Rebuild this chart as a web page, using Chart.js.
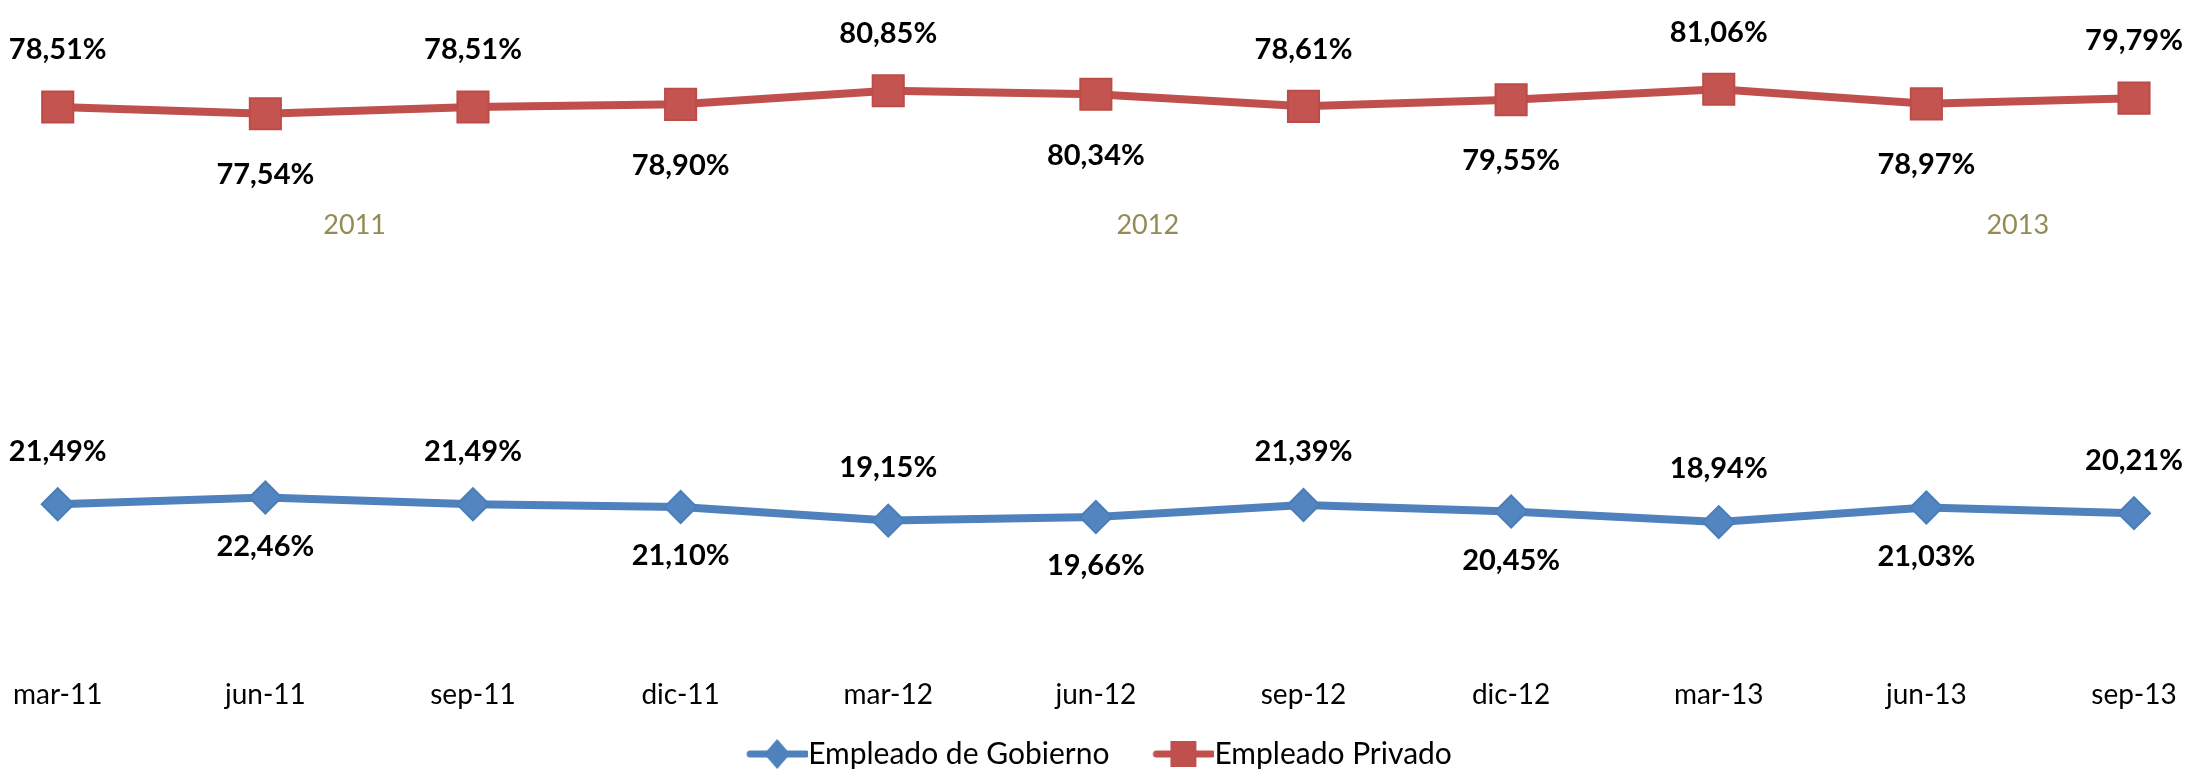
<!DOCTYPE html>
<html>
<head>
<meta charset="utf-8">
<script src="https://cdn.jsdelivr.net/npm/chart.js@4/dist/chart.umd.min.js"></script>
<style>
  body { margin: 0; background: #fff; }
  #wrap { width: 2200px; height: 769px; }
</style>
</head>
<body>
<div id="wrap"><canvas id="empleo" width="2200" height="769"></canvas></div>
<script>
'use strict';
const categories = ['mar-11', 'jun-11', 'sep-11', 'dic-11', 'mar-12', 'jun-12', 'sep-12', 'dic-12', 'mar-13', 'jun-13', 'sep-13'];
const gobierno = [21.49, 22.46, 21.49, 21.10, 19.15, 19.66, 21.39, 20.45, 18.94, 21.03, 20.21];
const privado = [78.51, 77.54, 78.51, 78.90, 80.85, 80.34, 78.61, 79.55, 81.06, 78.97, 79.79];
const years = ['2011', '2012', '2013'];

const blue = '#4F81BD';
const red = '#C0504D';
const font = 'Lato, "Open Sans", sans-serif';
const legendSize = 30;
const iconW = 62, iconGap = 25;

// little line + marker pictures for the legend, blank gap on the left
const legendIcon = function (color, shape) {
    const c = document.createElement('canvas');
    c.width = iconGap + iconW + legendSize;
    c.height = 34;
    const ctx = c.getContext('2d');
    const x0 = iconGap + legendSize;
    const mid = x0 + iconW / 2;
    ctx.strokeStyle = color;
    ctx.fillStyle = color;
    ctx.lineWidth = 7;
    ctx.lineCap = 'round';
    ctx.beginPath();
    ctx.moveTo(x0 + 4, 17);
    ctx.lineTo(x0 + iconW - 2, 17);
    ctx.stroke();
    ctx.beginPath();
    if (shape === 'square') {
        ctx.rect(mid - 13, 17 - 13, 26, 26);
    } else {
        ctx.moveTo(mid, 2);
        ctx.lineTo(mid + 13, 17);
        ctx.lineTo(mid, 32);
        ctx.lineTo(mid - 13, 17);
        ctx.closePath();
    }
    ctx.fill();
    return c;
};

const fmt = function (v) {
    return v.toFixed(2).replace('.', ',') + '%';
};

// value labels alternate above / below the marker
const labelPlugin = {
    id: 'labelPlugin',
    afterDatasetsDraw(chart) {
        const ctx = chart.ctx;
        ctx.save();
        ctx.font = 'bold 29px ' + font;
        ctx.fillStyle = '#000';
        ctx.textAlign = 'center';
        ctx.textBaseline = 'middle';
        chart.data.datasets.forEach((ds, i) => {
            const meta = chart.getDatasetMeta(i);
            const off = ds.labelOffset;
            meta.data.forEach((pt, j) => {
                const dy = j % 2 === 0 ? off[0] : off[1];
                ctx.fillText(fmt(ds.data[j]), pt.x, pt.y + dy);
            });
        });

        // year captions
        const x = chart.scales.x;
        const y = chart.scales.y;
        const at = [1.43, 5.25, 9.44];
        ctx.font = '27px ' + font;
        ctx.fillStyle = '#948A54';
        years.forEach((yr, k) => {
            const i0 = Math.floor(at[k]);
            const px = x.getPixelForValue(i0) + (at[k] - i0) * (x.getPixelForValue(i0 + 1) - x.getPixelForValue(i0));
            ctx.fillText(yr, px, y.getPixelForValue(61.6));
        });
        ctx.restore();
    }
};

const init = function () {
    const ctx = document.getElementById('empleo').getContext('2d');
    const icons = [legendIcon(blue, 'diamond'), legendIcon(red, 'square')];
    new Chart(ctx, {
        type: 'line',
        data: {
            labels: categories,
            datasets: [{
                label: 'Empleado de Gobierno',
                data: gobierno,
                labelOffset: [-53, 49],
                borderColor: blue,
                backgroundColor: blue,
                borderWidth: 8,
                pointStyle: 'rectRot',
                pointRadius: 16,
                pointBorderWidth: 2,
                pointBackgroundColor: '#5385C0',
                pointBorderColor: '#4A7EBB',
                tension: 0
            }, {
                label: 'Empleado Privado',
                data: privado,
                labelOffset: [-57, 61],
                borderColor: red,
                backgroundColor: red,
                borderWidth: 8,
                pointStyle: 'rect',
                pointRadius: 22,
                pointBorderWidth: 2,
                pointBackgroundColor: '#C4544F',
                pointBorderColor: '#BE4B48',
                tension: 0
            }]
        },
        options: {
            responsive: false,
            animation: false,
            layout: { padding: { left: 24, right: 66, top: 27, bottom: -10 } },
            scales: {
                x: {
                    offset: false,
                    border: { display: false },
                    grid: { display: false, drawTicks: false },
                    ticks: {
                        autoSkip: false,
                        maxRotation: 0,
                        padding: 13,
                        color: '#000',
                        font: { family: font, size: 28, lineHeight: 2 }
                    }
                },
                y: {
                    display: false,
                    min: 0,
                    max: 90
                }
            },
            plugins: {
                tooltip: { enabled: false },
                legend: {
                    position: 'bottom',
                    labels: {
                        usePointStyle: true,
                        pointStyleWidth: iconGap + iconW,
                        padding: 3,
                        color: '#000',
                        font: { family: font, size: legendSize },
                        generateLabels(chart) {
                            const items = Chart.defaults.plugins.legend.labels.generateLabels(chart);
                            items.forEach((it, i) => { it.pointStyle = icons[i]; });
                            return items;
                        }
                    }
                }
            }
        },
        plugins: [labelPlugin]
    });
};

document.addEventListener('DOMContentLoaded', function () {
    init();
});
</script>
</body>
</html>
